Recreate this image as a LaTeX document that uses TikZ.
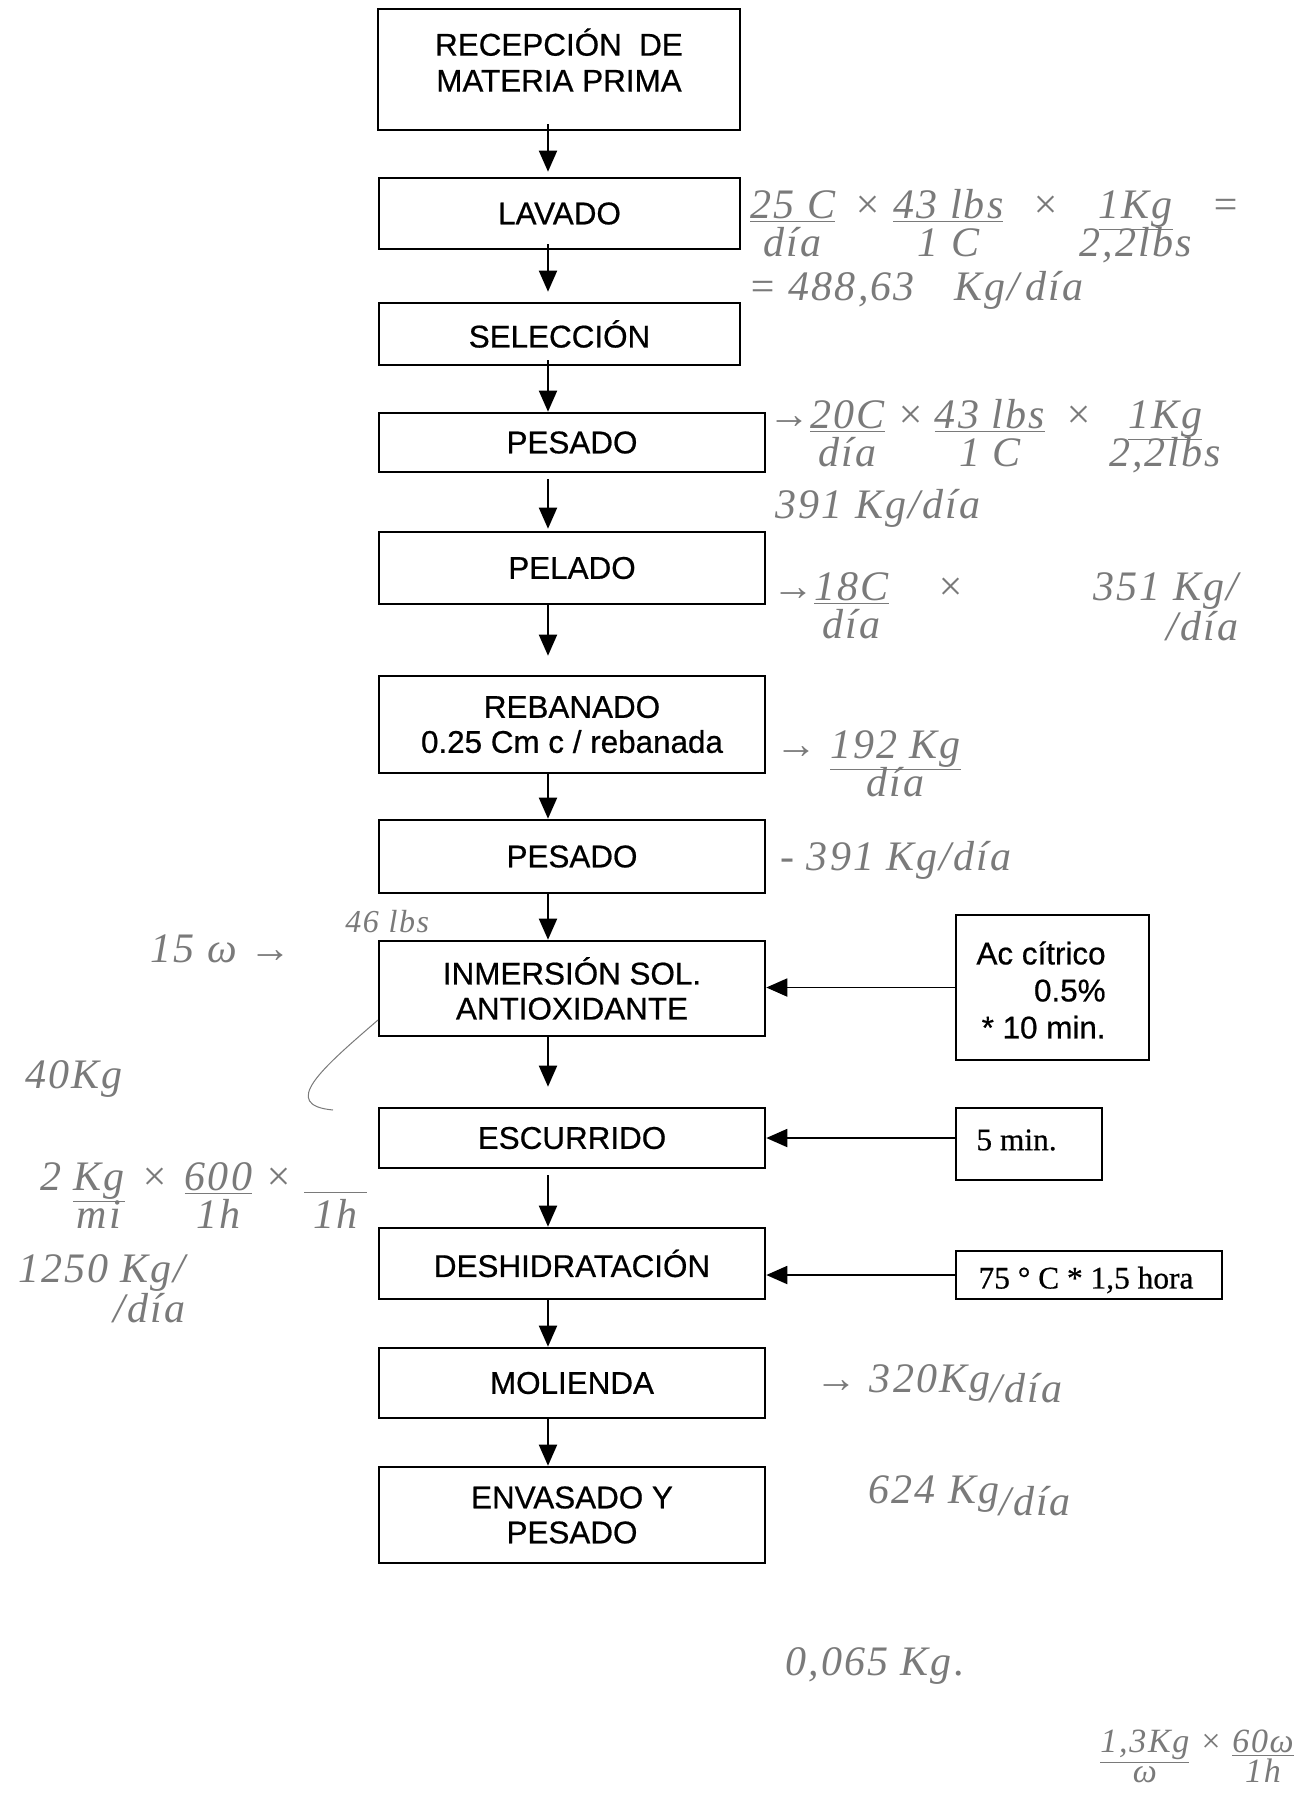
\documentclass[tikz,border=0pt]{standalone}
\usepackage{fontspec}
\setmainfont{Liberation Sans}[FakeBold=0.6]
\newfontfamily\timesf{Liberation Serif}[FakeBold=0.6]
\newfontfamily\handf{Liberation Serif}[LetterSpace=5]
\usetikzlibrary{arrows.meta}
\definecolor{pencil}{gray}{0.48}
\newcommand\hfr[2]{\begin{tabular}[t]{@{}c@{}}\underline{#1}\\[-5pt]#2\end{tabular}}
\newcommand\hdrop[2]{\begin{tabular}[t]{@{}r@{}}#1\\[-4pt]#2\end{tabular}}
\begin{document}
\begin{tikzpicture}[x=0.5pt,y=-0.5pt,
  frame/.style={draw, line width=1.3pt, rectangle, inner sep=0pt},
  box/.style={frame, align=center, font=\fontsize{15.7}{17.5}\selectfont},
  txt/.style={inner sep=0pt, align=center, font=\fontsize{15.7}{18}\selectfont},
  sbox/.style={draw, line width=1.2pt, rectangle, inner sep=0pt, font=\timesf\fontsize{15.7}{18}\selectfont},
  arr/.style={line width=0.95pt, -{Triangle[length=10.5pt,width=9pt]}},
  hand/.style={text=pencil, inner sep=0pt, anchor=base west, font=\handf\itshape\fontsize{21}{24}\selectfont},
  handsm/.style={hand, font=\handf\itshape\fontsize{16}{18}\selectfont}]
\useasboundingbox (0,0) rectangle (1295,1795);
\fill[white] (0,0) rectangle (1295,1795);
\coordinate (ax) at (548,0);
% main column
\node[frame, minimum width=181pt, minimum height=60.5pt] (recep) at (559,69.5) {};
\node[txt] (receptxt) at (559,60) {RECEPCIÓN\ \ DE\\MATERIA PRIMA};
\node[box, minimum width=180.5pt, minimum height=35.5pt] (lavado) at (559.5,213.5) {LAVADO};
\node[box, minimum width=180.5pt, minimum height=31pt] (selec) at (559.5,334) {SELECCIÓN};
\node[box, minimum width=193pt, minimum height=29.5pt] (pes1) at (572,442.5) {PESADO};
\node[box, minimum width=193pt, minimum height=36pt] (pel) at (572,568) {PELADO};
\node[box, minimum width=193pt, minimum height=48.5pt] (reb) at (572,724.5) {REBANADO\\0.25 Cm c / rebanada};
\node[box, minimum width=193pt, minimum height=36.5pt] (pes2) at (572,856.5) {PESADO};
\node[box, minimum width=193pt, minimum height=47.5pt] (inm) at (572,988.5) {INMERSIÓN SOL.\\ANTIOXIDANTE};
\node[box, minimum width=193pt, minimum height=30pt] (esc) at (572,1138) {ESCURRIDO};
\node[box, minimum width=193pt, minimum height=35.5pt] (desh) at (572,1263.5) {DESHIDRATACIÓN};
\node[box, minimum width=193pt, minimum height=35pt] (mol) at (572,1383) {MOLIENDA};
\node[box, minimum width=193pt, minimum height=48pt] (env) at (572,1515) {ENVASADO Y\\PESADO};
% side boxes
\node[frame, line width=1.2pt, minimum width=96.5pt, minimum height=72.5pt] (acido) at (1052.5,987.5) {};
\node[txt, anchor=east, align=right, font=\fontsize{15.7}{18.5}\selectfont] (acidotxt) at (1106,990) {Ac cítrico\\0.5\%\\* 10 min.};
\node[sbox, minimum width=73pt, minimum height=36pt] (fivemin) at (1029,1144) {};
\node[inner sep=0pt, anchor=west, font=\timesf\fontsize{15.7}{18}\selectfont] (fivetxt) at (976,1140) {5 min.};
\node[sbox, minimum width=133pt, minimum height=24pt] (temp) at (1089,1275) {};
\node[inner sep=0pt, font=\timesf\fontsize{15.7}{18}\selectfont] (temptxt) at (1086,1280) {75 ° C * 1,5 hora};
% arrows
\draw[arr] ([yshift=3.5pt]recep.south -| ax) -- ([yshift=2.5pt]lavado.north -| ax);
\draw[arr] ([yshift=3pt]lavado.south -| ax) -- ([yshift=5pt]selec.north -| ax);
\draw[arr] ([yshift=3pt]selec.south -| ax) -- (pes1.north -| ax);
\draw[arr] ([yshift=-3pt]pes1.south -| ax) -- ([yshift=1pt]pel.north -| ax);
\draw[arr] (pel.south -| ax) -- ([yshift=9.5pt]reb.north -| ax);
\draw[arr] (reb.south -| ax) -- (pes2.north -| ax);
\draw[arr] (pes2.south -| ax) -- (inm.north -| ax);
\draw[arr] (inm.south -| ax) -- ([yshift=10pt]esc.north -| ax);
\draw[arr] ([yshift=-3pt]esc.south -| ax) -- (desh.north -| ax);
\draw[arr] (desh.south -| ax) -- (mol.north -| ax);
\draw[arr] (mol.south -| ax) -- (env.north -| ax);
\draw[arr] (acido.west) -- (inm.east |- acido.west);
\draw[arr] (fivemin.west |- esc.east) -- (esc.east);
\draw[arr] (temp.west) -- (desh.east |- temp.west);
% handwritten notes
\node[hand] (h1) at (750,218) {\hfr{25 C}{día}\hspace{9pt}×\hspace{6pt}\hfr{43 lbs}{1 C}\hspace{14pt}×\hspace{10pt}\hfr{1Kg}{2,2lbs}\hspace{10pt}=};
\node[hand] (h2) at (748,300) {=\hspace{6pt}488,63\hspace{20pt}Kg/\hspace{3pt}día};
\node[hand] (h3) at (768,428) {→\hfr{20C}{día}\hspace{6pt}×\hspace{5pt}\hfr{43 lbs}{1 C}\hspace{10pt}×\hspace{8pt}\hfr{1Kg}{2,2lbs}};
\node[hand] (h4) at (775,518) {391 Kg/día};
\node[hand] (h5) at (772,600) {→\hfr{18C}{día}\hspace{24pt}×};
\node[hand] (h6) at (1093,600) {\hdrop{351 Kg/}{/día}};
\node[hand] (h7) at (775,758) {→ \hfr{192 Kg}{día}};
\node[hand] (h8) at (780,870) {- 391 Kg/día};
\node[hand] (h9) at (150,962) {15 ω →};
\node[handsm] (h10) at (345,932) {46 lbs};
\node[hand] (h11) at (25,1088) {40Kg};
\node[hand] (h12) at (40,1190) {2\hspace{6pt}\hfr{Kg}{mi}\hspace{8pt}×\hspace{8pt}\hfr{600}{1h}\hspace{6pt}×\hspace{6pt}\hfr{\ \ \ \ \ }{1h}};
\node[hand] (h13) at (18,1282) {\hdrop{1250\hspace{6pt}Kg/}{/día}};
\node[hand] (h14) at (815,1392) {→ 320Kg\raisebox{-5pt}{/día}};
\node[hand] (h15) at (868,1503) {624 Kg\raisebox{-6pt}{/día}};
\node[hand] (h16) at (785,1675) {0,065 Kg.};
\node[hand, font=\handf\itshape\fontsize{17}{20}\selectfont] (h17) at (1100,1752) {\hfr{1,3Kg}{ω}\hspace{5pt}×\hspace{5pt}\hfr{60ω}{1h}};
\draw[pencil, line width=0.5pt] (378,1020) .. controls (320,1070) and (280,1105) .. (333,1110);
\end{tikzpicture}
\end{document}
